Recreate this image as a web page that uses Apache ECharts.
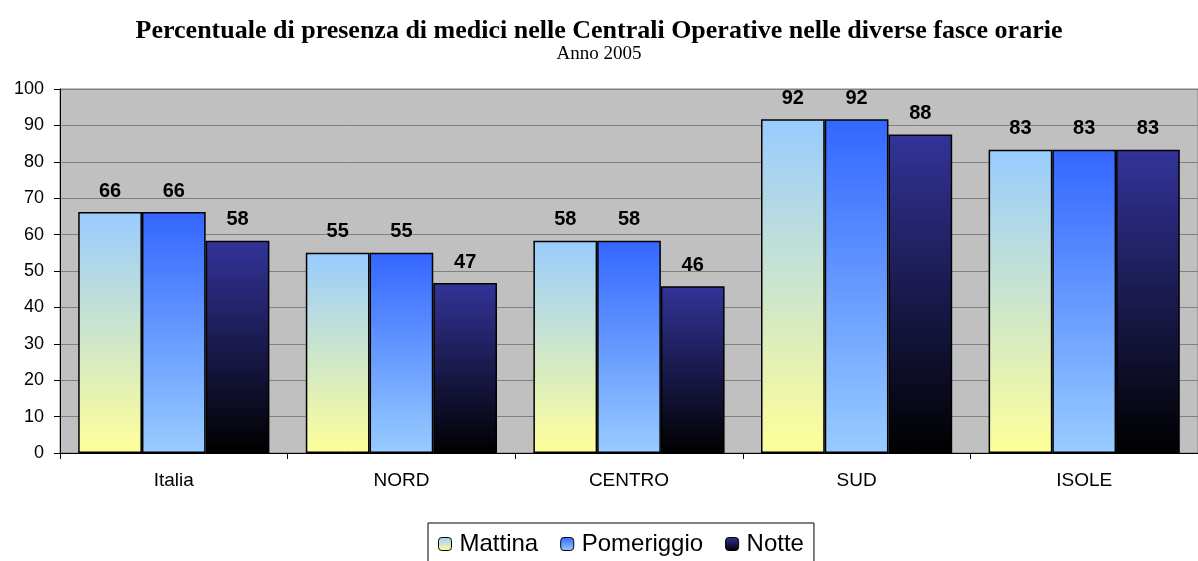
<!DOCTYPE html>
<html>
<head>
<meta charset="utf-8">
<script src="https://cdn.jsdelivr.net/npm/echarts@6/dist/echarts.min.js"></script>
<style>
  html, body { margin: 0; padding: 0; background: #fff; }
  #chart { width: 1198px; height: 561px; }
</style>
</head>
<body>
<div id="chart"></div>
<script>
const categories = ['Italia', 'NORD', 'CENTRO', 'SUD', 'ISOLE'];
const mattina = [66.2, 55, 58.3, 91.7, 83.3];
const pomeriggio = [66.2, 55, 58.3, 91.7, 83.3];
const notte = [58.3, 46.7, 45.8, 87.5, 83.3];
const yTicks = [0, 10, 20, 30, 40, 50, 60, 70, 80, 90, 100];

const grad = (top, bottom) => new echarts.graphic.LinearGradient(0, 0, 0, 1, [
  { offset: 0, color: top },
  { offset: 1, color: bottom },
]);

const seriesDefs = [
  { name: 'Mattina', data: mattina, color: grad('#99CCFF', '#FFFF99') },
  { name: 'Pomeriggio', data: pomeriggio, color: grad('#3366FF', '#99CCFF') },
  { name: 'Notte', data: notte, color: grad('#333399', '#000000') },
];

const chart = echarts.init(document.getElementById('chart'));

const option = {
  backgroundColor: '#ffffff',
  animation: false,
  title: {
    text: 'Percentuale di presenza di medici nelle Centrali Operative nelle diverse fasce orarie',
    subtext: 'Anno 2005',
    left: 'center',
    top: 13,
    itemGap: 1,
    textStyle: {
      fontFamily: 'Liberation Serif',
      fontWeight: 'bold',
      fontSize: 26,
      color: '#000',
    },
    subtextStyle: {
      fontFamily: 'Liberation Serif',
      fontSize: 19,
      color: '#000',
    },
  },
  legend: {
    data: seriesDefs.map(s => s.name),
    left: 428,
    top: 523,
    itemWidth: 13,
    itemHeight: 13,
    itemGap: 22,
    padding: [9, 10, 20, 10],
    borderColor: '#000',
    borderWidth: 1,
    textStyle: {
      fontFamily: 'Liberation Sans',
      fontSize: 24,
      color: '#000',
      padding: [0, 0, 0, 3],
    },
    itemStyle: {
      borderColor: '#000',
      borderWidth: 1,
    },
  },
  grid: {
    left: 60,
    top: 89,
    width: 1146,
    height: 364,
    show: true,
    backgroundColor: '#C0C0C0',
    borderColor: '#808080',
    borderWidth: 1,
  },
  xAxis: {
    type: 'category',
    data: categories,
    axisLine: { lineStyle: { color: '#000', width: 1 } },
    axisTick: { show: true, alignWithLabel: false, length: 6, lineStyle: { color: '#000' } },
    axisLabel: {
      color: '#000',
      fontFamily: 'Liberation Sans',
      fontSize: 19,
      margin: 18,
    },
  },
  yAxis: {
    type: 'value',
    min: 0,
    max: 100,
    interval: 10,
    axisLine: { show: true, lineStyle: { color: '#000', width: 1 } },
    axisTick: { show: true, length: 6, lineStyle: { color: '#000' } },
    axisLabel: {
      color: '#000',
      fontFamily: 'Liberation Sans',
      fontSize: 18,
      margin: 16,
      formatter: v => (yTicks.includes(v) ? String(v) : ''),
    },
    splitLine: { show: true, lineStyle: { color: '#808080', width: 1 } },
  },
  series: seriesDefs.map(s => ({
    name: s.name,
    type: 'bar',
    data: s.data,
    barGap: '0%',
    barCategoryGap: '16%',
    itemStyle: {
      color: s.color,
      borderColor: '#000',
      borderWidth: 1.5,
    },
    label: {
      show: true,
      position: 'top',
      distance: 11,
      color: '#000',
      fontFamily: 'Liberation Sans',
      fontWeight: 'bold',
      fontSize: 20,
      formatter: p => String(Math.round(p.value)),
    },
  })),
};

chart.setOption(option);
</script>
</body>
</html>
